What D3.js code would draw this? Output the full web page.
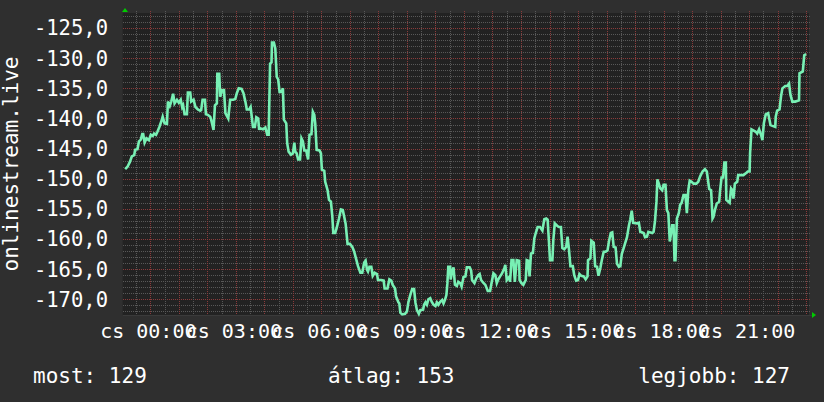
<!DOCTYPE html>
<html>
<head>
<meta charset="utf-8">
<script src="https://cdn.jsdelivr.net/npm/d3@7"></script>
<style>
  html, body { margin: 0; padding: 0; background: #2f2f2f; }
  svg { display: block; }
</style>
</head>
<body>
<div id="chart"></div>
<script>
// minutes since midnight (cs = csütörtök) and the measured value
const minutes = [-53,-48,-43,-39,-34,-32,-27,-24,-20,-17,-15,-12,-8,-3,1,5,8,12,15,19,23,26,30,35,37,41,44,48,51,56,60,64,67,69,72,77,79,84,86,91,95,100,105,107,110,115,117,121,126,128,133,136,140,141,145,147,151,155,158,164,168,175,179,182,186,192,196,200,203,208,211,216,220,223,227,229,230,237,242,246,249,252,255,256,260,263,266,269,272,276,279,281,286,288,291,296,300,303,305,308,311,315,318,321,324,328,332,335,339,342,345,347,350,356,359,361,366,368,373,376,380,383,385,389,392,397,401,405,408,411,415,420,425,429,433,437,442,446,450,453,456,458,461,465,468,472,477,479,486,491,493,499,503,507,510,515,517,522,524,526,530,536,540,543,547,551,555,558,561,565,568,574,576,579,582,585,589,592,596,600,603,606,610,614,617,620,623,625,627,631,632,635,638,641,645,648,652,655,659,663,666,672,675,677,682,686,690,693,696,700,705,710,715,718,722,726,729,732,736,740,745,747,750,755,757,760,764,767,771,776,777,781,785,790,792,795,798,801,805,808,811,815,820,825,829,833,836,839,841,846,848,851,856,860,864,867,871,875,878,881,884,889,892,896,900,903,907,912,916,920,921,926,928,933,936,940,943,947,950,954,958,962,965,969,972,975,979,982,986,989,992,996,999,1003,1007,1010,1013,1016,1024,1028,1031,1038,1041,1045,1048,1056,1059,1062,1065,1067,1070,1073,1077,1080,1084,1087,1090,1093,1096,1098,1101,1103,1105,1108,1112,1115,1118,1122,1126,1129,1132,1135,1139,1143,1149,1153,1157,1162,1167,1171,1176,1180,1183,1185,1188,1192,1197,1199,1202,1205,1208,1211,1212,1219,1222,1225,1227,1230,1235,1237,1248,1253,1257,1261,1262,1265,1274,1277,1281,1285,1288,1291,1295,1300,1305,1315,1316,1319,1324,1327,1330,1336,1340,1344,1347,1351,1357,1365,1366,1373,1376,1380];
const values = [-148.4,-148.0,-147.2,-146.3,-146.1,-145.2,-145.1,-143.8,-143.5,-142.6,-142.6,-144.0,-143.3,-143.6,-142.7,-142.9,-142.5,-142.7,-142.2,-141.4,-140.5,-139.7,-140.8,-140.9,-137.2,-137.9,-137.2,-135.9,-137.5,-136.9,-137.4,-136.9,-138.1,-137.8,-139.3,-139.3,-135.7,-135.7,-137.2,-136.9,-138.1,-138.5,-138.7,-138.6,-136.9,-136.9,-139.3,-139.4,-139.7,-140.2,-141.9,-137.8,-137.5,-132.6,-132.6,-136.4,-135.3,-135.3,-139.1,-140.0,-136.9,-136.9,-136.7,-135.8,-135.0,-135.1,-135.8,-137.2,-138.5,-138.5,-138.1,-141.4,-141.4,-139.8,-140.0,-141.9,-141.6,-141.8,-141.5,-142.7,-142.7,-130.9,-130.7,-127.4,-127.4,-128.4,-133.1,-133.5,-135.6,-135.6,-135.0,-140.2,-140.8,-144.1,-145.5,-146.0,-145.8,-144.0,-145.5,-145.8,-146.8,-146.8,-143.3,-143.8,-145.3,-145.3,-146.8,-142.7,-142.6,-138.9,-139.4,-140.8,-145.2,-145.3,-145.8,-148.5,-148.7,-150.5,-151.9,-153.5,-153.8,-156.3,-159.0,-159.0,-158.2,-156.6,-155.1,-155.2,-156.3,-157.5,-160.8,-160.8,-161.3,-162.1,-163.3,-164.5,-165.6,-165.6,-163.9,-163.6,-165.1,-165.4,-164.6,-164.6,-166.1,-165.6,-165.8,-166.8,-166.8,-166.9,-168.2,-168.2,-166.7,-166.9,-167.6,-168.2,-169.5,-170.5,-170.7,-172.2,-172.5,-172.4,-172.0,-170.5,-169.3,-168.3,-168.3,-170.6,-171.8,-172.4,-171.8,-171.7,-170.9,-170.5,-170.9,-170.0,-169.8,-170.4,-170.9,-171.1,-170.5,-170.9,-170.4,-170.1,-170.7,-170.1,-169.3,-167.4,-164.6,-164.6,-166.7,-165.4,-164.7,-167.6,-167.8,-167.1,-167.3,-167.9,-166.3,-166.2,-164.7,-164.7,-165.2,-166.8,-167.3,-166.5,-166.0,-165.8,-166.8,-167.2,-167.6,-168.6,-168.6,-167.3,-165.7,-166.0,-167.3,-166.7,-166.2,-165.7,-164.8,-164.3,-166.8,-166.3,-167.1,-163.5,-163.5,-167.1,-163.5,-163.6,-166.8,-167.3,-167.6,-166.8,-163.5,-163.6,-166.2,-162.4,-162.3,-159.9,-159.0,-158.0,-158.0,-158.6,-156.7,-156.6,-156.8,-160.7,-163.5,-163.5,-160.2,-157.4,-157.8,-158.0,-158.0,-161.5,-161.7,-161.3,-159.6,-161.8,-164.5,-164.5,-166.0,-166.9,-166.8,-165.8,-166.1,-166.2,-166.7,-166.2,-163.5,-163.2,-160.3,-160.6,-164.5,-164.6,-166.1,-164.8,-163.5,-162.1,-162.1,-161.9,-160.4,-159.0,-158.9,-161.3,-161.4,-164.1,-164.6,-164.5,-162.5,-161.5,-160.7,-159.7,-157.8,-156.7,-155.3,-157.3,-157.4,-157.3,-158.8,-159.0,-159.7,-159.6,-158.8,-159.0,-158.8,-157.0,-153.8,-150.1,-150.8,-151.6,-151.9,-151.0,-151.0,-155.2,-155.7,-160.4,-159.0,-157.7,-157.7,-163.5,-163.5,-156.6,-155.7,-154.3,-154.0,-152.7,-152.7,-155.7,-151.9,-150.3,-150.5,-150.8,-150.8,-150.5,-149.6,-148.8,-148.4,-148.8,-151.7,-151.9,-156.6,-156.3,-155.2,-154.1,-153.8,-151.9,-149.8,-149.8,-147.3,-147.3,-153.5,-154.0,-151.6,-151.9,-153.3,-150.8,-150.5,-149.4,-149.4,-149.1,-148.8,-148.8,-145.8,-141.8,-142.2,-142.5,-141.8,-142.7,-143.6,-140.8,-139.3,-139.1,-141.1,-141.4,-139.7,-138.7,-138.5,-136.4,-135.0,-134.6,-134.6,-134.2,-136.1,-137.2,-137.2,-137.0,-132.5,-132.2,-129.5,-129.3];

const yTicks = [-125, -130, -135, -140, -145, -150, -155, -160, -165, -170];
const xTicks = [0, 180, 360, 540, 720, 900, 1080, 1260];
const dayLabel = "cs";
const yTitle = "onlinestream.live";
const legendLabels = ["most", "átlag", "legjobb"];
const legendValues = [129, 153, 127];

const W = 824, H = 402;
const plot = {left: 123, right: 809, top: 13, bottom: 315};

const svg = d3.select("#chart").append("svg")
  .attr("width", W).attr("height", H);

svg.append("rect").attr("width", W).attr("height", H).attr("fill", "#2f2f2f");

// scales
const x = d3.scaleLinear().domain([-57.5, 1386]).range([plot.left, plot.right]);
const y = d3.scaleLinear().domain([-172.6, -122.5]).range([plot.bottom, plot.top]);

// canvas
svg.append("rect")
  .attr("x", plot.left).attr("y", plot.top)
  .attr("width", plot.right - plot.left).attr("height", plot.bottom - plot.top)
  .attr("fill", "#222222");

const mono = "'DejaVu Sans Mono', 'Liberation Mono', monospace";
const grid = svg.append("g").attr("shape-rendering", "crispEdges");

// horizontal grid: every 1 unit, red every 5
d3.range(-172, -122).forEach(v => {
  const major = v % 5 === 0;
  grid.append("line")
    .attr("x1", plot.left).attr("x2", plot.right + 2)
    .attr("y1", Math.round(y(v)) + 0.5).attr("y2", Math.round(y(v)) + 0.5)
    .attr("stroke", major ? "#8a3a3a" : "#585858")
    .attr("stroke-dasharray", "1,1");
});

// vertical grid: every 30 min, red every hour
d3.range(-30, 1386, 30).forEach(m => {
  const major = m % 60 === 0;
  grid.append("line")
    .attr("x1", Math.round(x(m)) + 0.5).attr("x2", Math.round(x(m)) + 0.5)
    .attr("y1", plot.top - 2).attr("y2", plot.bottom)
    .attr("stroke", major ? "#8a3a3a" : "#585858")
    .attr("stroke-dasharray", "1,1");
});

// axis lines
svg.append("line")
  .attr("x1", plot.left - 0.5).attr("x2", plot.left - 0.5)
  .attr("y1", plot.top).attr("y2", plot.bottom)
  .attr("stroke", "#2a2a2a");
svg.append("line")
  .attr("x1", plot.left).attr("x2", plot.right + 3)
  .attr("y1", plot.bottom + 0.5).attr("y2", plot.bottom + 0.5)
  .attr("stroke", "#3a3a3a");

// arrows
svg.append("path")
  .attr("d", `M${plot.left - 1},${plot.top - 1} L${plot.left + 2},${plot.top - 5} L${plot.left + 5},${plot.top - 1} Z`)
  .attr("fill", "#00cc00");
svg.append("path")
  .attr("d", `M${plot.right + 3},${plot.bottom - 3} L${plot.right + 7},${plot.bottom} L${plot.right + 3},${plot.bottom + 3} Z`)
  .attr("fill", "#00cc00");

// y tick labels
svg.append("g").selectAll("text")
  .data(yTicks)
  .enter().append("text")
  .attr("x", 108)
  .attr("y", d => y(d))
  .attr("dy", "0.36em")
  .attr("text-anchor", "end")
  .attr("fill", "#ffffff")
  .style("font-family", mono)
  .style("font-size", "20.5px")
  .text(d => d3.format(".1f")(d).replace("−", "-").replace(".", ","));

// x tick labels (rrdtool lets them overlap)
svg.append("g").selectAll("text")
  .data(xTicks)
  .enter().append("text")
  .attr("x", d => x(d) - 2)
  .attr("y", 338)
  .attr("text-anchor", "middle")
  .attr("fill", "#ffffff")
  .style("font-family", mono)
  .style("font-size", "20px")
  .text(d => dayLabel + " " + d3.format("02d")(d / 60) + ":00");

// y title
svg.append("text")
  .attr("transform", `translate(18,${(plot.top + plot.bottom) / 2}) rotate(-90)`)
  .attr("text-anchor", "middle")
  .attr("fill", "#ffffff")
  .style("font-family", mono)
  .style("font-size", "21px")
  .text(yTitle);

// data line
const data = minutes.map((m, i) => ({m: m, v: values[i]}));
const line = d3.line().x(d => x(d.m)).y(d => y(d.v));
svg.append("path")
  .datum(data)
  .attr("d", line)
  .attr("fill", "none")
  .attr("stroke", "#78f0b4")
  .attr("stroke-width", 2.6)
  .attr("stroke-linejoin", "miter");

// legend
const legendX = [33, 328, 790];
const legendAnchor = ["start", "start", "end"];
svg.append("g").selectAll("text")
  .data(legendLabels)
  .enter().append("text")
  .attr("x", (d, i) => legendX[i])
  .attr("y", 383)
  .attr("text-anchor", (d, i) => legendAnchor[i])
  .attr("fill", "#ffffff")
  .style("font-family", mono)
  .style("font-size", "21px")
  .text((d, i) => d + ": " + legendValues[i]);
</script>
</body>
</html>
